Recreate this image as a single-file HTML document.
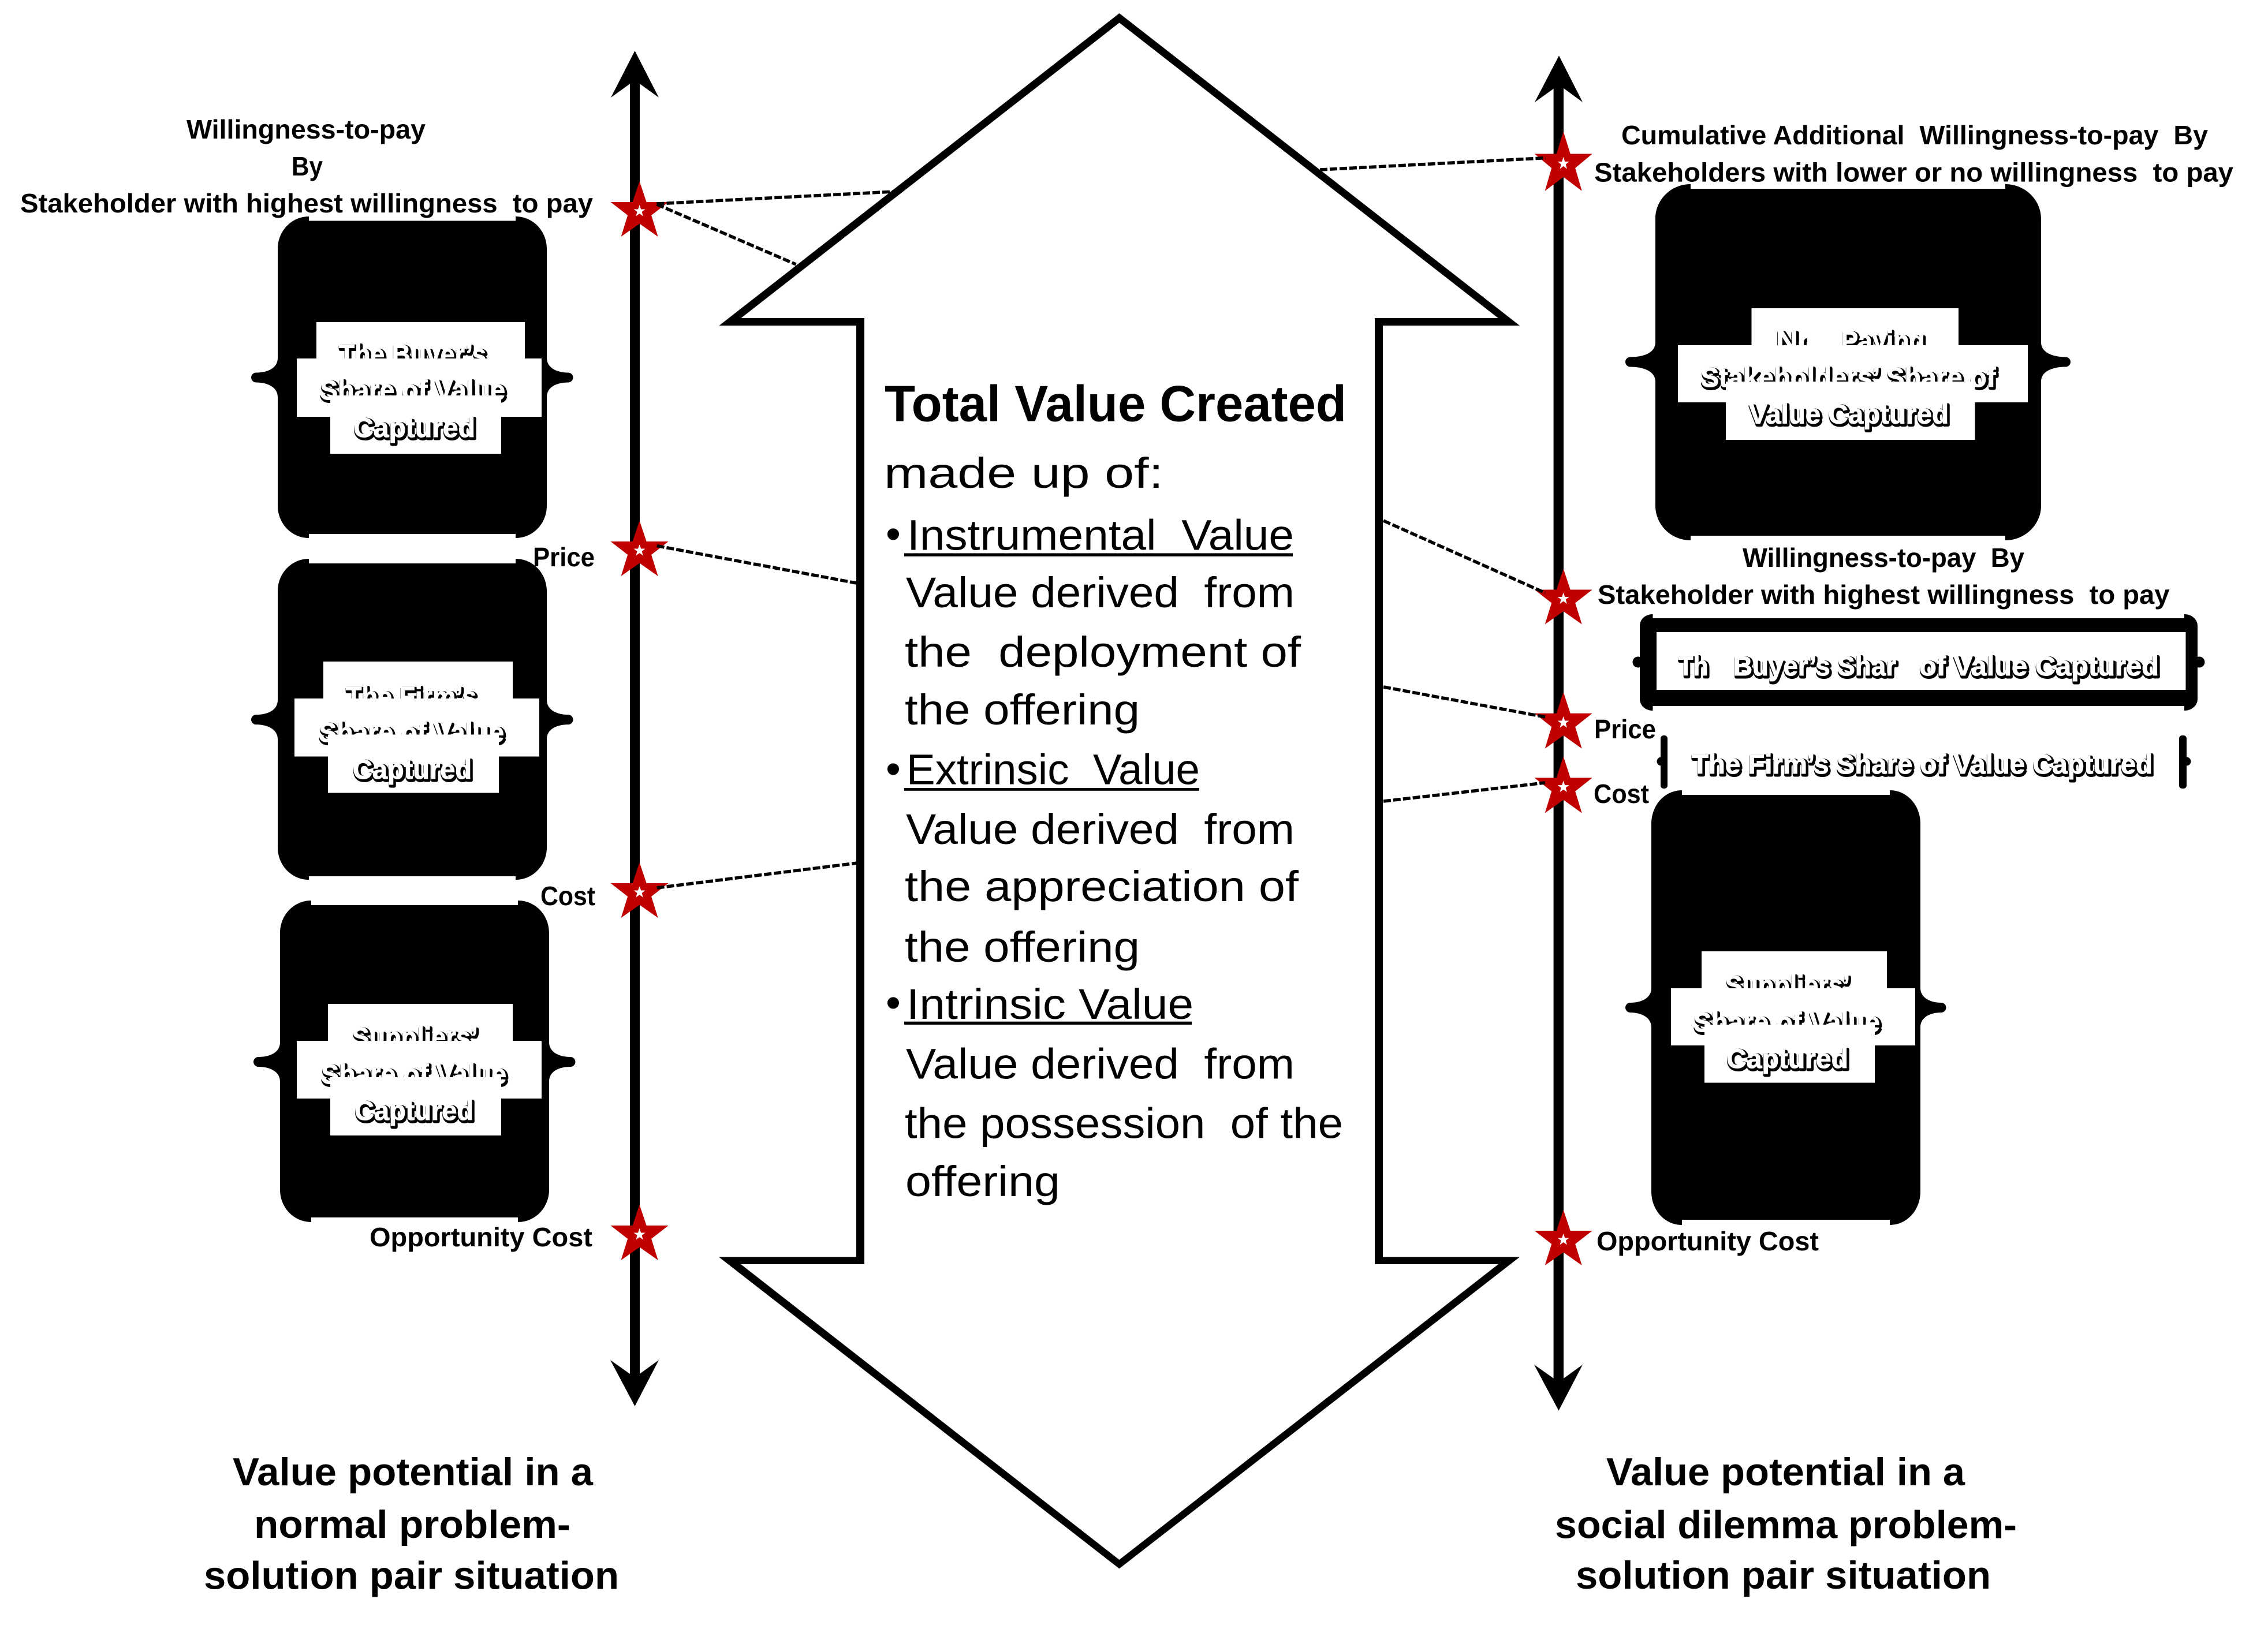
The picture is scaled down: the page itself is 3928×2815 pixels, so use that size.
<!DOCTYPE html>
<html><head><meta charset="utf-8"><title>Value potential</title>
<style>
html,body{margin:0;padding:0;background:#fff}
svg{display:block}
text{font-family:"Liberation Sans",sans-serif;fill:#000;white-space:pre}
.l{font-size:46px;font-weight:bold}
.t{font-size:68px;font-weight:bold}
.c{font-size:74px}
.s{font-size:47px;font-weight:bold;fill:#000;stroke:#000;stroke-width:6px;stroke-linejoin:round}
.w{font-size:47px;font-weight:bold;fill:#fff;stroke:#fff;stroke-width:1px}
</style></head>
<body>
<svg xmlns="http://www.w3.org/2000/svg" xml:space="preserve" width="3928" height="2815" viewBox="0 0 3928 2815">
<defs>
<g id="star">
<polygon fill="#c00000" points="-50,36 -12,36 0,0 12,36 50,36 20.5,59 32,96 0,73.5 -32,96 -20.5,59"/>
<polygon fill="#fff" points="0,41 2.6,48.5 10,48.5 4,53 6.2,60.5 0,56 -6.2,60.5 -4,53 -10,48.5 -2.6,48.5"/>
</g>
</defs>
<rect width="3928" height="2815" fill="#fff"/>

<!-- central double arrow -->
<polygon fill="#000" points="1938.6,23 2632,564 2395,564 2395,2177.5 2632,2177.5 1938.5,2717.4 1245,2177.5 1483,2177.5 1483,564 1245.5,564"/>
<polygon fill="#fff" points="1938.6,39.4 2594.7,551 2381,551 2381,2190 2595,2190 1938.5,2702 1283,2190 1497,2190 1497,551 1283.5,551"/>

<!-- axes -->
<rect x="1091" y="130" width="17" height="2260" fill="#000"/>
<polygon fill="#000" points="1099.5,88 1141,169 1099.5,139 1058,169"/>
<polygon fill="#000" points="1099.5,2436 1141,2356 1099.5,2386 1057,2356"/>
<rect x="2690.6" y="140" width="17.4" height="2260" fill="#000"/>
<polygon fill="#000" points="2700,96.4 2741,177 2700,147 2658,177"/>
<polygon fill="#000" points="2699.5,2443.6 2741,2364 2699.5,2394 2657,2364"/>

<!-- left braces -->
<path fill="#000" d="M535 375c-30 0-54 25-54 56V620c0 18-18 25.500-37.500 25.500a8.500 8.500 0 0 0 0 17c19.500 0 37.500 8 37.500 25.500V876c0 31 24 56 54 56V925H893V932c30 0 54-25 54-56V688c0-18 18-25.500 37-25.500a8.500 8.500 0 0 0 0-17c-19 0-37-8-37-25.500V431c0-31-24-56-54-56V382.500H535Z"/>
<path fill="#000" d="M535 968c-30 0-54 25-54 56V1212.600c0 18-18 25.500-37.500 25.500a8.500 8.500 0 0 0 0 17c19.500 0 37.500 8 37.500 25.500V1468c0 31 24 56 54 56V1518H893V1524c30 0 54-25 54-56V1280.600c0-18 18-25.500 37-25.500a8.500 8.500 0 0 0 0-17c-19 0-37-8-37-25.500V1024c0-31-24-56-54-56V976H535Z"/>
<path fill="#000" d="M539 1560c-30 0-54 25-54 56V1805.500c0 18-18 25.500-37.500 25.500a8.500 8.500 0 0 0 0 17c19.500 0 37.500 8 37.500 25.500V2061c0 31 24 56 54 56V2109H897V2117c30 0 54-25 54-56V1873.500c0-18 18-25.500 37-25.500a8.500 8.500 0 0 0 0-17c-19 0-37-8-37-25.500V1616c0-31-24-56-54-56V1568H539Z"/>

<!-- right braces -->
<path fill="#000" d="M2928 319c-34 0-61 27-61 60V593c0 18-20 25.500-43.500 25.500a8.500 8.500 0 0 0 0 17c23.500 0 43.500 8 43.500 25.500V876c0 33 27 60 61 60V928H3473V936c34 0 62-27 62-60V661c0-18 20-25.500 42.500-25.500a8.500 8.500 0 0 0 0-17c-22.500 0-42.500-8-42.500-25.500V379c0-33-28-60-62-60V327H2928Z"/>
<path fill="#000" d="M2913 1369c-30 0-53 26-53 58V1711.500c0 18-18 25.500-36.500 25.500a8.500 8.500 0 0 0 0 17c18.500 0 36.500 8 36.500 25.500V2064c0 32 23 58 53 58V2113H3273V2122c30 0 53-26 53-58V1779.500c0-18 18-25.500 36-25.500a8.500 8.500 0 0 0 0-17c-18 0-36-8-36-25.500V1427c0-32-23-58-53-58V1377H2913Z"/>
<path fill="#000" d="M2862.500 1064c-13 0-22.500 9-22.500 20V1211c0 11 9.500 20 22.500 20V1223H3783V1231c13 0 23-9 23-20V1084c0-11-10-20-23-20V1071H2862.500Z"/>
<circle cx="2837" cy="1147" r="9.500" fill="#000"/>
<circle cx="3809" cy="1147" r="9.500" fill="#000"/>
<rect x="2876" y="1274" width="12" height="92" rx="5" fill="#000"/>
<circle cx="2877" cy="1319" r="7.500" fill="#000"/>
<rect x="3774" y="1274" width="13" height="92" rx="5" fill="#000"/>
<circle cx="3787" cy="1319" r="7.500" fill="#000"/>

<!-- Left 1 -->
<rect x="548" y="558" width="361" height="102" fill="#fff"/>
<g transform="translate(2,2.500)"><text class="s" x="587" y="630" textLength="255" lengthAdjust="spacingAndGlyphs">The Buyer’s</text></g>
<text class="w" x="587" y="630" textLength="255" lengthAdjust="spacingAndGlyphs">The Buyer’s</text>
<rect x="514" y="621" width="424" height="101" fill="#fff"/>
<g transform="translate(2,2.500)"><text class="s" x="554" y="692" textLength="321" lengthAdjust="spacingAndGlyphs">Share of Value</text></g>
<text class="w" x="554" y="692" textLength="321" lengthAdjust="spacingAndGlyphs">Share of Value</text>
<rect x="572" y="685" width="296" height="101" fill="#fff"/>
<g transform="translate(2,2.500)"><text class="s" x="612" y="757" textLength="211" lengthAdjust="spacingAndGlyphs">Captured</text></g>
<text class="w" x="612" y="757" textLength="211" lengthAdjust="spacingAndGlyphs">Captured</text>

<!-- Left 2 -->
<rect x="560" y="1146" width="328" height="101" fill="#fff"/>
<g transform="translate(2,2.500)"><text class="s" x="599" y="1223" textLength="226" lengthAdjust="spacingAndGlyphs">The Firm’s</text></g>
<text class="w" x="599" y="1223" textLength="226" lengthAdjust="spacingAndGlyphs">The Firm’s</text>
<rect x="510" y="1210" width="424" height="100.500" fill="#fff"/>
<g transform="translate(2,2.500)"><text class="s" x="552" y="1285" textLength="321" lengthAdjust="spacingAndGlyphs">Share of Value</text></g>
<text class="w" x="552" y="1285" textLength="321" lengthAdjust="spacingAndGlyphs">Share of Value</text>
<rect x="568" y="1272.500" width="296" height="101" fill="#fff"/>
<g transform="translate(2,2.500)"><text class="s" x="611" y="1349" textLength="206" lengthAdjust="spacingAndGlyphs">Captured</text></g>
<text class="w" x="611" y="1349" textLength="206" lengthAdjust="spacingAndGlyphs">Captured</text>

<!-- Left 3 -->
<rect x="568" y="1739" width="320" height="101" fill="#fff"/>
<g transform="translate(2,2.500)"><text class="s" x="609.500" y="1813" textLength="218" lengthAdjust="spacingAndGlyphs">Suppliers’</text></g>
<text class="w" x="609.500" y="1813" textLength="218" lengthAdjust="spacingAndGlyphs">Suppliers’</text>
<rect x="514" y="1803" width="424" height="100" fill="#fff"/>
<g transform="translate(2,2.500)"><text class="s" x="556" y="1877" textLength="321" lengthAdjust="spacingAndGlyphs">Share of Value</text></g>
<text class="w" x="556" y="1877" textLength="321" lengthAdjust="spacingAndGlyphs">Share of Value</text>
<rect x="572" y="1866" width="296" height="101" fill="#fff"/>
<g transform="translate(2,2.500)"><text class="s" x="614" y="1940" textLength="206" lengthAdjust="spacingAndGlyphs">Captured</text></g>
<text class="w" x="614" y="1940" textLength="206" lengthAdjust="spacingAndGlyphs">Captured</text>

<!-- Right 1 -->
<rect x="3033.500" y="534" width="358.500" height="101" fill="#fff"/>
<g transform="translate(2,2.500)"><text class="s" x="3076" y="606.500" textLength="70" lengthAdjust="spacingAndGlyphs">No</text>
<text class="s" x="3188.500" y="606.500" textLength="145" lengthAdjust="spacingAndGlyphs">Paying</text></g>
<text class="w" x="3076" y="606.500" textLength="70" lengthAdjust="spacingAndGlyphs">No</text>
<rect x="3130" y="560" width="54" height="40" fill="#fff"/>
<text class="w" x="3134" y="606.500" textLength="50" lengthAdjust="spacingAndGlyphs">n-</text>
<text class="w" x="3188.500" y="606.500" textLength="145" lengthAdjust="spacingAndGlyphs">Paying</text>
<rect x="2906" y="598" width="606" height="99" fill="#fff"/>
<g transform="translate(2,2.500)"><text class="s" x="2945.500" y="670" textLength="511" lengthAdjust="spacingAndGlyphs">Stakeholders’ Share of</text></g>
<text class="w" x="2945.500" y="670" textLength="511" lengthAdjust="spacingAndGlyphs">Stakeholders’ Share of</text>
<rect x="2989" y="661" width="431.500" height="101" fill="#fff"/>
<g transform="translate(2,2.500)"><text class="s" x="3029" y="733.500" textLength="346" lengthAdjust="spacingAndGlyphs">Value Captured</text></g>
<text class="w" x="3029" y="733.500" textLength="346" lengthAdjust="spacingAndGlyphs">Value Captured</text>

<!-- Right 2 : Buyer -->
<rect x="2869" y="1095" width="916.500" height="100" fill="#fff"/>
<g transform="translate(2,2.500)">
<text class="s" x="2906.500" y="1170" textLength="52" lengthAdjust="spacingAndGlyphs">Th</text>
<text class="s" x="3002" y="1170" textLength="282" lengthAdjust="spacingAndGlyphs">Buyer’s Shar</text>
<text class="s" x="3324" y="1170" textLength="415" lengthAdjust="spacingAndGlyphs">of Value Captured</text>
</g>
<text class="w" x="2906.500" y="1170" textLength="52" lengthAdjust="spacingAndGlyphs">Th</text>
<text class="w" x="2964" y="1170">e</text>
<text class="w" x="3002" y="1170" textLength="282" lengthAdjust="spacingAndGlyphs">Buyer’s Shar</text>
<text class="w" x="3290" y="1170">e</text>
<text class="w" x="3324" y="1170" textLength="415" lengthAdjust="spacingAndGlyphs">of Value Captured</text>

<!-- Right 3 : Firm -->
<g transform="translate(2,2.500)"><text class="s" x="2930" y="1340" textLength="798" lengthAdjust="spacingAndGlyphs">The Firm’s Share of Value Captured</text></g>
<text class="w" x="2930" y="1340" textLength="798" lengthAdjust="spacingAndGlyphs">The Firm’s Share of Value Captured</text>

<!-- Right 4 -->
<rect x="2947" y="1648" width="321" height="101" fill="#fff"/>
<g transform="translate(2,2.500)"><text class="s" x="2988" y="1723" textLength="216" lengthAdjust="spacingAndGlyphs">Suppliers’</text></g>
<text class="w" x="2988" y="1723" textLength="216" lengthAdjust="spacingAndGlyphs">Suppliers’</text>
<rect x="2894" y="1712" width="423" height="99" fill="#fff"/>
<g transform="translate(2,2.500)"><text class="s" x="2933" y="1787" textLength="323" lengthAdjust="spacingAndGlyphs">Share of Value</text></g>
<text class="w" x="2933" y="1787" textLength="323" lengthAdjust="spacingAndGlyphs">Share of Value</text>
<rect x="2952" y="1775" width="295" height="100.600" fill="#fff"/>
<g transform="translate(2,2.500)"><text class="s" x="2990" y="1850" textLength="211" lengthAdjust="spacingAndGlyphs">Captured</text></g>
<text class="w" x="2990" y="1850" textLength="211" lengthAdjust="spacingAndGlyphs">Captured</text>

<!-- stars -->
<use href="#star" transform="translate(1107.600,314)"/>
<use href="#star" transform="translate(1107.600,902)"/>
<use href="#star" transform="translate(1107.600,1494)"/>
<use href="#star" transform="translate(1107.600,2087)"/>
<use href="#star" transform="translate(2707.700,228) scale(1,1.070)"/>
<use href="#star" transform="translate(2707.700,985.500)"/>
<use href="#star" transform="translate(2707.700,1199) scale(1,1.020)"/>
<use href="#star" transform="translate(2707.700,1310.600) scale(1,1.020)"/>
<use href="#star" transform="translate(2707.700,2096)"/>

<!-- dashed connectors -->
<g stroke="#000" stroke-width="5.500" stroke-dasharray="13 4" fill="none">
<line x1="1137.500" y1="353" x2="1547" y2="332"/>
<line x1="1137.500" y1="354" x2="1378.600" y2="458"/>
<line x1="1137.700" y1="945.600" x2="1483" y2="1010"/>
<line x1="1137.700" y1="1538" x2="1485" y2="1495"/>
<line x1="2286" y1="294" x2="2677" y2="273.600"/>
<line x1="2396" y1="902" x2="2676" y2="1027"/>
<line x1="2396" y1="1190" x2="2676" y2="1242"/>
<line x1="2396" y1="1388" x2="2676" y2="1356"/>
</g>

<!-- left labels -->
<text class="l" x="323" y="240" textLength="414" lengthAdjust="spacingAndGlyphs">Willingness-to-pay</text>
<text class="l" x="505" y="304" textLength="54" lengthAdjust="spacingAndGlyphs">By</text>
<text class="l" x="35" y="368" textLength="992" lengthAdjust="spacingAndGlyphs">Stakeholder with highest willingness  to pay</text>
<text class="l" x="923" y="981" textLength="107" lengthAdjust="spacingAndGlyphs">Price</text>
<text class="l" x="936" y="1568" textLength="95" lengthAdjust="spacingAndGlyphs">Cost</text>
<text class="l" x="640" y="2159" textLength="386" lengthAdjust="spacingAndGlyphs">Opportunity Cost</text>

<!-- right labels -->
<text class="l" x="2808" y="250" textLength="1016" lengthAdjust="spacingAndGlyphs">Cumulative Additional  Willingness-to-pay  By</text>
<text class="l" x="2761" y="314.500" textLength="1107" lengthAdjust="spacingAndGlyphs">Stakeholders with lower or no willingness  to pay</text>
<text class="l" x="3018" y="982" textLength="488" lengthAdjust="spacingAndGlyphs">Willingness-to-pay  By</text>
<text class="l" x="2767" y="1046" textLength="990.500" lengthAdjust="spacingAndGlyphs">Stakeholder with highest willingness  to pay</text>
<text class="l" x="2761" y="1279" textLength="107" lengthAdjust="spacingAndGlyphs">Price</text>
<text class="l" x="2760" y="1391" textLength="96" lengthAdjust="spacingAndGlyphs">Cost</text>
<text class="l" x="2765" y="2166" textLength="385" lengthAdjust="spacingAndGlyphs">Opportunity Cost</text>

<!-- bottom titles -->
<text class="t" x="403" y="2573" textLength="624" lengthAdjust="spacingAndGlyphs">Value potential in a</text>
<text class="t" x="440" y="2664" textLength="548" lengthAdjust="spacingAndGlyphs">normal problem-</text>
<text class="t" x="353" y="2752.500" textLength="719" lengthAdjust="spacingAndGlyphs">solution pair situation</text>
<text class="t" x="2782" y="2573" textLength="621" lengthAdjust="spacingAndGlyphs">Value potential in a</text>
<text class="t" x="2693" y="2664.500" textLength="800" lengthAdjust="spacingAndGlyphs">social dilemma problem-</text>
<text class="t" x="2729" y="2752" textLength="719" lengthAdjust="spacingAndGlyphs">solution pair situation</text>

<!-- central text -->
<text x="1532" y="729.400" font-size="88" font-weight="bold" textLength="800" lengthAdjust="spacingAndGlyphs">Total Value Created</text>
<text class="c" x="1531" y="845" textLength="484" lengthAdjust="spacingAndGlyphs">made up of:</text>

<text class="c" x="1534" y="950">•</text>
<text class="c" x="1571" y="952.600" textLength="670" lengthAdjust="spacingAndGlyphs">Instrumental  Value</text>
<rect x="1566" y="958.400" width="673" height="5.400" fill="#000"/>
<text class="c" x="1569" y="1052" textLength="673" lengthAdjust="spacingAndGlyphs">Value derived  from</text>
<text class="c" x="1567" y="1155" textLength="686" lengthAdjust="spacingAndGlyphs">the  deployment of</text>
<text class="c" x="1567" y="1255" textLength="407" lengthAdjust="spacingAndGlyphs">the offering</text>

<text class="c" x="1534" y="1357">•</text>
<text class="c" x="1570" y="1358.600" textLength="508" lengthAdjust="spacingAndGlyphs">Extrinsic  Value</text>
<rect x="1566" y="1365" width="511" height="4.800" fill="#000"/>
<text class="c" x="1569" y="1462" textLength="673" lengthAdjust="spacingAndGlyphs">Value derived  from</text>
<text class="c" x="1567" y="1561" textLength="682" lengthAdjust="spacingAndGlyphs">the appreciation of</text>
<text class="c" x="1567" y="1665.800" textLength="407" lengthAdjust="spacingAndGlyphs">the offering</text>

<text class="c" x="1534" y="1762">•</text>
<text class="c" x="1570" y="1765" textLength="497" lengthAdjust="spacingAndGlyphs">Intrinsic Value</text>
<rect x="1566" y="1769.700" width="498" height="5.300" fill="#000"/>
<text class="c" x="1569" y="1868.400" textLength="673" lengthAdjust="spacingAndGlyphs">Value derived  from</text>
<text class="c" x="1567" y="1971.700" textLength="759" lengthAdjust="spacingAndGlyphs">the possession  of the</text>
<text class="c" x="1568" y="2072" textLength="268" lengthAdjust="spacingAndGlyphs">offering</text>
</svg>
</body></html>
